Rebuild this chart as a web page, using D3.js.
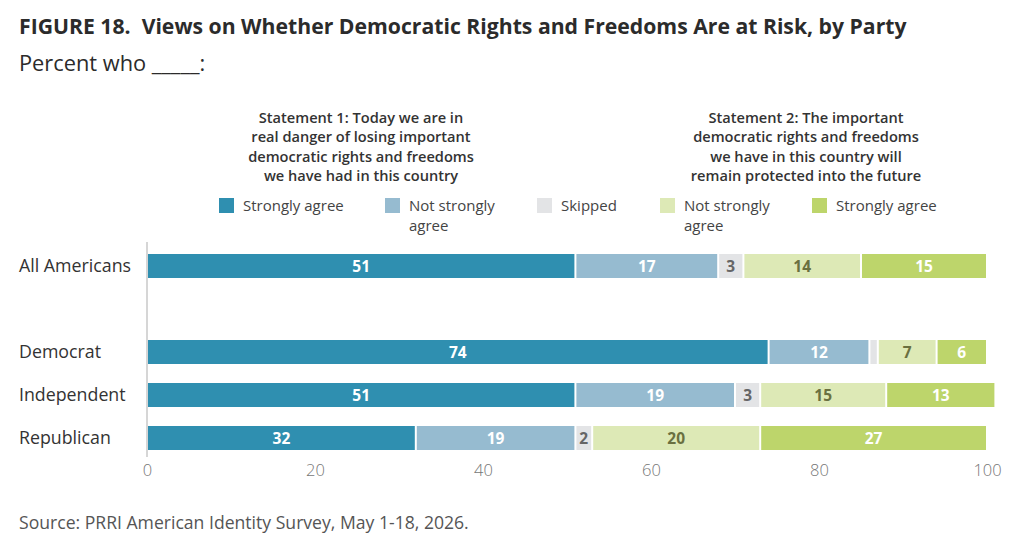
<!DOCTYPE html>
<html><head><meta charset="utf-8">
<script src="https://cdn.jsdelivr.net/npm/d3@7"></script>
<style>
body{margin:0;background:#fff;}
svg{display:block;}
</style>
</head><body>
<script>
const categories = ["All Americans", "Democrat", "Independent", "Republican"];
const seriesNames = ["Strongly agree", "Not strongly agree", "Skipped", "Not strongly agree", "Strongly agree"];
const s1Strongly = [51, 74, 51, 32];
const s1NotStrongly = [17, 12, 19, 19];
const skipped = [3, 1, 3, 2];
const s2NotStrongly = [14, 7, 15, 20];
const s2Strongly = [15, 6, 13, 27];
const tickValues = [0, 20, 40, 60, 80, 100];
const statement1 = ["Statement 1: Today we are in", "real danger of losing important", "democratic rights and freedoms", "we have had in this country"];
const statement2 = ["Statement 2: The important", "democratic rights and freedoms", "we have in this country will", "remain protected into the future"];

const colors = ["#2f8fb0", "#96bbd0", "#e3e4e6", "#dde9b6", "#bdd56b"];
const labelColors = ["#ffffff", "#ffffff", "#666666", "#6a7040", "#ffffff"];
const seriesVals = [s1Strongly, s1NotStrongly, skipped, s2NotStrongly, s2Strongly];

const W = 1024, H = 550;
const svg = d3.select("body").append("svg").attr("width", W).attr("height", H);

const font = "'Open Sans', sans-serif";

// Title
svg.append("text").attr("x", 19).attr("y", 34)
  .attr("font-family", font).attr("font-weight", 700).attr("font-size", 21.2).attr("fill", "#2b2b2b")
  .attr("xml:space", "preserve")
  .text("FIGURE 18.  Views on Whether Democratic Rights and Freedoms Are at Risk, by Party");
svg.append("text").attr("x", 19).attr("y", 71)
  .attr("font-family", font).attr("font-size", 21.8).attr("fill", "#2b2b2b")
  .text("Percent who _____:");

// Scales
const x = d3.scaleLinear().domain([0, 100]).range([147, 987]);
const yPos = d3.scaleLinear().domain([0, 4]).range([266, 438]);
const catIndex = [0, 2, 3, 4];
const barH = 24;

// Statements
function statement(lines, cx) {
  const t = svg.append("text").attr("font-family", font).attr("font-weight", 600)
    .attr("font-size", 14.6).attr("fill", "#333").attr("text-anchor", "middle");
  lines.forEach((l, i) => t.append("tspan").attr("x", cx).attr("y", 123 + i * 19.3).text(l));
}
statement(statement1, 361);
statement(statement2, 806);

// Legend
const legendX = [219, 385, 537, 660, 812];
const legendLabels = [["Strongly agree"], ["Not strongly", "agree"], ["Skipped"], ["Not strongly", "agree"], ["Strongly agree"]];
legendX.forEach((lx, i) => {
  svg.append("rect").attr("x", lx).attr("y", 198).attr("width", 15).attr("height", 15).attr("fill", colors[i]);
  const t = svg.append("text").attr("font-family", font).attr("font-size", 15).attr("fill", "#444");
  legendLabels[i].forEach((l, j) => t.append("tspan").attr("x", lx + 24).attr("y", 211 + j * 19.5).text(l));
});

// Axis line
svg.append("line").attr("x1", x(0)).attr("x2", x(0)).attr("y1", 242).attr("y2", 457)
  .attr("stroke", "#d6d6d6").attr("stroke-width", 2);

// Category labels
categories.forEach((c, i) => {
  svg.append("text").attr("x", 19).attr("y", yPos(catIndex[i])).attr("dy", "0.36em")
    .attr("font-family", font).attr("font-size", 17.8).attr("fill", "#333").text(c);
});

// Bars
categories.forEach((c, i) => {
  let cum = 0;
  const cy = yPos(catIndex[i]);
  seriesVals.forEach((vals, s) => {
    const v = vals[i];
    const x0 = x(cum), x1 = x(cum + v);
    svg.append("rect").attr("x", x0 + 1).attr("y", cy - barH / 2)
      .attr("width", Math.max(0, x1 - x0 - 2)).attr("height", barH).attr("fill", colors[s]);
    if (v >= 2) {
      svg.append("text").attr("x", (x0 + x1) / 2).attr("y", cy).attr("dy", "0.36em")
        .attr("text-anchor", "middle").attr("font-family", font).attr("font-weight", 700)
        .attr("font-size", 15.5).attr("fill", labelColors[s]).text(v);
    }
    cum += v;
  });
});

// X axis ticks
const axis = d3.axisBottom(x).tickValues(tickValues).tickSize(0).tickPadding(0);
const gx = svg.append("g").attr("transform", "translate(0,464)").call(axis);
gx.select(".domain").remove();
gx.selectAll("text").attr("font-family", font).attr("font-weight", 300).attr("font-size", 16.5).attr("fill", "#777").attr("dy", "0.71em");

// Source
svg.append("text").attr("x", 19).attr("y", 529).attr("font-family", font).attr("font-size", 17.6)
  .attr("fill", "#555")
  .text("Source: PRRI American Identity Survey, May 1-18, 2026.");
</script>
</body></html>
